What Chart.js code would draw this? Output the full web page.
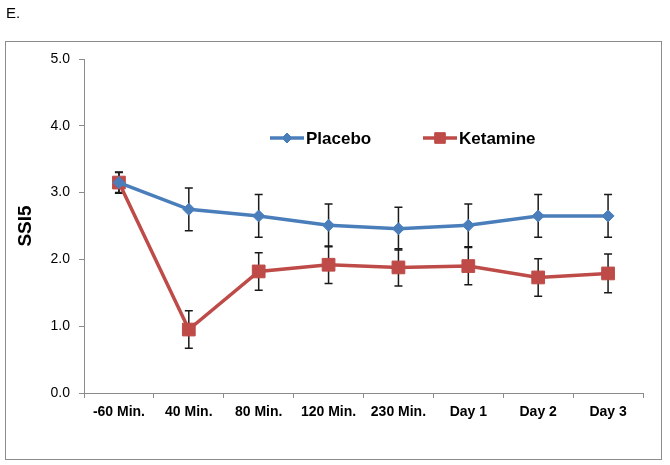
<!DOCTYPE html>
<html>
<head>
<meta charset="utf-8">
<script src="https://cdn.jsdelivr.net/npm/chart.js@4.4.1/dist/chart.umd.min.js"></script>
<style>
  html, body { margin: 0; padding: 0; background: #fff; }
  #wrap { width: 670px; height: 465px; position: relative; }
</style>
</head>
<body>
<div id="wrap"><canvas id="grafico"></canvas></div>
<script>
// dados
const momentos = ["-60 Min.", "40 Min.", "80 Min.", "120 Min.", "230 Min.", "Day 1", "Day 2", "Day 3"];
const placebo = [3.15, 2.75, 2.65, 2.51, 2.46, 2.51, 2.65, 2.65];
const placeboErro = [0.16, 0.32, 0.32, 0.32, 0.32, 0.32, 0.32, 0.32];
const ketamina = [3.15, 0.95, 1.82, 1.92, 1.88, 1.90, 1.73, 1.79];
const ketaminaErro = [0.15, 0.28, 0.28, 0.28, 0.28, 0.28, 0.28, 0.29];
const ticksY = [0, 1, 2, 3, 4, 5];

const azul = "#4A7EBB";
const vermelho = "#BE4B48";

// barras de erro, moldura, legenda e letra do painel
const extras = {
  id: "extras",
  beforeDraw(chart) {
    const ctx = chart.ctx;
    ctx.save();
    ctx.fillStyle = "#fff";
    ctx.fillRect(0, 0, chart.width, chart.height);
    ctx.strokeStyle = "#8c8c8c";
    ctx.lineWidth = 1;
    ctx.strokeRect(5.5, 41.5, 656, 418);
    ctx.fillStyle = "#000";
    ctx.font = "15px 'Liberation Sans', Arial, sans-serif";
    ctx.textBaseline = "alphabetic";
    ctx.fillText("E.", 6, 18);
    ctx.restore();
  },
  beforeDatasetsDraw(chart) {
    const ctx = chart.ctx;
    const x = chart.scales.x, y = chart.scales.y;
    const series = [[placebo, placeboErro], [ketamina, ketaminaErro]];
    ctx.save();
    ctx.strokeStyle = "#1a1a1a";
    ctx.lineWidth = 1.5;
    series.forEach(([vals, errs]) => {
      vals.forEach((v, i) => {
        const px = x.getPixelForValue(i);
        const top = y.getPixelForValue(v + errs[i]);
        const bot = y.getPixelForValue(v - errs[i]);
        ctx.beginPath();
        ctx.moveTo(px, top); ctx.lineTo(px, bot);
        ctx.moveTo(px - 4, top); ctx.lineTo(px + 4, top);
        ctx.moveTo(px - 4, bot); ctx.lineTo(px + 4, bot);
        ctx.stroke();
      });
    });
    ctx.restore();
  },
  afterDraw(chart) {
    const ctx = chart.ctx;
    const itens = [
      { ds: chart.data.datasets[0], x0: 270, x1: 304, tx: 306, r: 5 },
      { ds: chart.data.datasets[1], x0: 423, x1: 457, tx: 459, r: 7.5 },
    ];
    const yl = 138;
    ctx.save();
    itens.forEach(it => {
      ctx.strokeStyle = it.ds.borderColor;
      ctx.lineWidth = 3.5;
      ctx.beginPath();
      ctx.moveTo(it.x0, yl); ctx.lineTo(it.x1, yl);
      ctx.stroke();
      ctx.lineWidth = 1;
      ctx.fillStyle = it.ds.backgroundColor;
      Chart.helpers.drawPoint(ctx, {
        pointStyle: it.ds.pointStyle,
        radius: it.r,
        borderWidth: 1,
      }, (it.x0 + it.x1) / 2, yl);
      ctx.fillStyle = "#000";
      ctx.font = "bold 17px 'Liberation Sans', Arial, sans-serif";
      ctx.textBaseline = "middle";
      ctx.fillText(it.ds.label, it.tx, yl + 1);
    });
    ctx.restore();
  },
};

function criarGrafico() {
  const ctx = document.getElementById("grafico").getContext("2d");
  new Chart(ctx, {
    type: "line",
    data: {
      labels: momentos,
      datasets: [
        {
          label: "Placebo",
          data: placebo,
          borderColor: azul,
          backgroundColor: azul,
          borderWidth: 3.5,
          pointStyle: "rectRot",
          pointRadius: 6,
          pointBorderWidth: 1,
          tension: 0,
        },
        {
          label: "Ketamine",
          data: ketamina,
          borderColor: vermelho,
          backgroundColor: vermelho,
          borderWidth: 3.5,
          pointStyle: "rect",
          pointRadius: 9,
          pointBorderWidth: 1,
          tension: 0,
        },
      ],
    },
    options: {
      responsive: true,
      maintainAspectRatio: false,
      animation: false,
      layout: { padding: { left: 0, right: 27, top: 59, bottom: 0 } },
      plugins: { legend: { display: false }, tooltip: { enabled: false } },
      scales: {
        x: {
          offset: true,
          grid: { offset: true, drawOnChartArea: false, color: "#8c8c8c", tickLength: 5, tickColor: "#8c8c8c" },
          border: { color: "#8c8c8c", width: 1 },
          ticks: {
            color: "#000",
            padding: 6,
            maxRotation: 0,
            autoSkip: false,
            font: { family: "'Liberation Sans', Arial, sans-serif", size: 14, weight: "bold" },
          },
          afterFit: s => { s.height = 72; },
        },
        y: {
          min: 0,
          max: 5,
          afterBuildTicks: s => { s.ticks = ticksY.map(v => ({ value: v })); },
          grid: { drawOnChartArea: false, tickLength: 5, tickColor: "#8c8c8c" },
          border: { color: "#8c8c8c", width: 1 },
          ticks: {
            color: "#000",
            padding: 9,
            callback: v => v.toFixed(1),
            font: { family: "'Liberation Sans', Arial, sans-serif", size: 14 },
          },
          title: {
            display: true,
            text: "SSI5",
            color: "#000",
            padding: { top: 14, bottom: 0 },
            font: { family: "'Liberation Sans', Arial, sans-serif", size: 19, weight: "bold" },
          },
          afterFit: s => { s.width = 84; },
        },
      },
    },
    plugins: [extras],
  });
}

criarGrafico();
</script>
</body>
</html>
